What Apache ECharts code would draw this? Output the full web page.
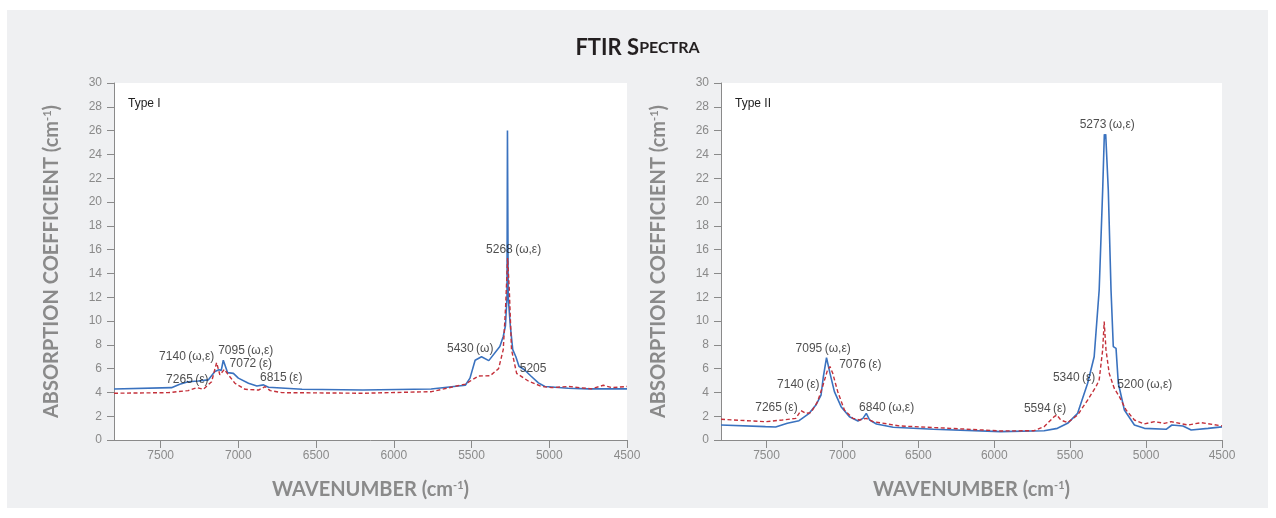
<!DOCTYPE html>
<html>
<head>
<meta charset="utf-8">
<script src="https://cdn.jsdelivr.net/npm/echarts@6/dist/echarts.min.js"></script>
<style>
html, body { margin: 0; padding: 0; background: #fff; }
#chart { position: absolute; left: 7px; top: 10px; width: 1261px; height: 498px; }
</style>
</head>
<body>
<div id="chart"></div>
<script>
// Type I spectra
var typeOneBlueX = [7800, 7430, 7377, 7323, 7258, 7194, 7151, 7125, 7110, 7097, 7069, 7032, 7000, 6935, 6881, 6838, 6806, 6590, 6200, 5760, 5540, 5510, 5477, 5436, 5389, 5318, 5296, 5282, 5272, 5269, 5267, 5264, 5250, 5235, 5215, 5195, 5160, 5120, 5070, 5028, 4878, 4749, 4556, 4500];
var typeOneBlueY = [4.29, 4.40, 4.68, 4.90, 4.96, 5.05, 5.75, 5.90, 5.85, 6.70, 5.66, 5.60, 5.20, 4.77, 4.54, 4.63, 4.43, 4.26, 4.20, 4.29, 4.60, 5.20, 6.70, 7.00, 6.67, 7.85, 8.70, 9.6, 12.0, 26.0, 26.0, 12.0, 9.5, 7.6, 7.0, 6.2, 5.9, 5.4, 4.8, 4.50, 4.35, 4.30, 4.30, 4.30];
var typeOneRedX = [7800, 7452, 7323, 7265, 7226, 7172, 7140, 7119, 7090, 7064, 7022, 6957, 6870, 6828, 6795, 6720, 6200, 5758, 5540, 5455, 5380, 5326, 5296, 5281, 5268, 5257, 5243, 5210, 5135, 5049, 4985, 4878, 4728, 4652, 4598, 4500];
var typeOneRedY = [3.93, 3.98, 4.15, 4.40, 4.26, 4.90, 6.50, 5.47, 5.94, 5.47, 4.77, 4.26, 4.20, 4.48, 4.15, 3.98, 3.93, 4.06, 4.70, 5.38, 5.40, 6.00, 7.60, 11.2, 15.3, 12.6, 7.60, 5.60, 4.96, 4.50, 4.40, 4.50, 4.30, 4.60, 4.40, 4.50];

// Type II spectra
var typeTwoBlueX = [7800, 7507, 7440, 7363, 7286, 7219, 7175, 7141, 7126, 7105, 7082, 7053, 7009, 6954, 6898, 6865, 6843, 6821, 6776, 6666, 6400, 5958, 5672, 5584, 5517, 5451, 5385, 5342, 5309, 5286, 5275, 5270, 5266, 5249, 5231, 5216, 5198, 5183, 5143, 5077, 5011, 4868, 4830, 4757, 4703, 4592, 4500];
var typeTwoBlueY = [1.26, 1.12, 1.09, 1.40, 1.62, 2.24, 2.94, 3.78, 5.30, 6.92, 5.60, 4.06, 2.80, 1.96, 1.60, 1.82, 2.24, 1.68, 1.35, 1.07, 0.90, 0.70, 0.78, 0.98, 1.40, 2.24, 4.77, 7.00, 12.6, 21.0, 25.7, 25.3, 25.7, 21.0, 12.6, 7.85, 7.70, 4.77, 2.52, 1.26, 0.98, 0.90, 1.26, 1.18, 0.84, 0.98, 1.10];
var typeTwoRedX = [7800, 7507, 7396, 7307, 7274, 7241, 7208, 7164, 7131, 7098, 7082, 7064, 7031, 6987, 6932, 6887, 6843, 6799, 6621, 6289, 5958, 5738, 5672, 5606, 5588, 5562, 5517, 5451, 5385, 5330, 5309, 5286, 5276, 5264, 5243, 5210, 5176, 5132, 5077, 5011, 4945, 4879, 4835, 4724, 4637, 4500];
var typeTwoRedY = [1.74, 1.54, 1.68, 1.82, 2.47, 2.24, 2.30, 3.22, 4.48, 5.90, 6.17, 5.60, 4.06, 2.52, 1.82, 1.68, 1.82, 1.54, 1.18, 0.98, 0.76, 0.78, 1.12, 1.96, 2.10, 1.68, 1.46, 2.10, 3.36, 4.48, 5.05, 7.57, 9.95, 7.57, 5.60, 4.35, 3.64, 2.52, 1.68, 1.35, 1.54, 1.40, 1.54, 1.26, 1.46, 1.18];

// peak notes: [wavenumber, coefficient, text] (text starts at the point)
var typeOneNotes = [
    [7513, 7.0, '7140\u2009(ω,ε)'],
    [7133, 7.5, '7095\u2009(ω,ε)'],
    [7060, 6.4, '7072\u2009(ε)'],
    [7468, 5.05, '7265\u2009(ε)'],
    [6864, 5.2, '6815\u2009(ε)'],
    [5661, 7.7, '5430\u2009(ω)'],
    [5410, 16.0, '5268\u2009(ω,ε)'],
    [5193, 6.0, '5205']
];
var typeTwoNotes = [
    [7312, 7.65, '7095\u2009(ω,ε)'],
    [7025, 6.37, '7076\u2009(ε)'],
    [7434, 4.63, '7140\u2009(ε)'],
    [7578, 2.75, '7265\u2009(ε)'],
    [6894, 2.75, '6840\u2009(ω,ε)'],
    [5441, 26.5, '5273\u2009(ω,ε)'],
    [5617, 5.2, '5340\u2009(ε)'],
    [5194, 4.63, '5200\u2009(ω,ε)'],
    [5808, 2.67, '5594\u2009(ε)']
];

var yTicks = [0, 30, 2];
var xTicks = [4500, 7800, 500];

var BLUE = '#3a72bf';
var RED = '#c4303a';
var GREY = '#8a8a8a';

function pairs(xs, ys) {
    return xs.map(function (x, i) { return [x, ys[i]]; });
}

function makeXAxis(index) {
    return {
        type: 'value',
        gridIndex: index,
        min: xTicks[0],
        max: xTicks[1],
        interval: xTicks[2],
        inverse: true,
        axisLine: { lineStyle: { color: GREY, width: 1 } },
        axisTick: { length: 8, lineStyle: { color: GREY } },
        axisLabel: {
            color: GREY, fontSize: 12, margin: 10, fontFamily: 'Liberation Sans', showMaxLabel: false,
            formatter: function (v) { return String(v); }
        },
        splitLine: { show: false },
        name: '{n|WAVENUMBER (cm}{s|-1}{n|)}',
        nameLocation: 'middle',
        nameGap: 40,
        nameTextStyle: {
            rich: {
                n: { fontSize: 20, fontWeight: 'bold', color: GREY, fontFamily: 'Lato' },
                s: { fontSize: 11, fontWeight: 'bold', color: GREY, fontFamily: 'Lato', padding: [0, 0, 9, 0] }
            }
        }
    };
}

function makeYAxis(index) {
    return {
        type: 'value',
        gridIndex: index,
        min: yTicks[0],
        max: yTicks[1],
        interval: yTicks[2],
        axisLine: { show: true, lineStyle: { color: GREY, width: 1 } },
        axisTick: { show: true, length: 7, lineStyle: { color: GREY } },
        axisLabel: { color: GREY, fontSize: 12, margin: 12, fontFamily: 'Liberation Sans' },
        splitLine: { show: false },
        name: '{n|ABSORPTION COEFFICIENT (cm}{s|-1}{n|)}',
        nameLocation: 'middle',
        nameGap: 52,
        nameTextStyle: {
            rich: {
                n: { fontSize: 20, fontWeight: 'bold', color: GREY, fontFamily: 'Lato' },
                s: { fontSize: 11, fontWeight: 'bold', color: GREY, fontFamily: 'Lato', padding: [0, 0, 9, 0] }
            }
        }
    };
}

function lineSeries(index, xs, ys, color, dashed) {
    return {
        type: 'line',
        xAxisIndex: index,
        yAxisIndex: index,
        data: pairs(xs, ys),
        symbol: 'none',
        silent: true,
        lineStyle: { color: color, width: dashed ? 1.4 : 1.6, type: dashed ? [4, 2.5] : 'solid' },
        z: dashed ? 3 : 2
    };
}

function noteSeries(index, notes) {
    return {
        type: 'scatter',
        xAxisIndex: index,
        yAxisIndex: index,
        data: notes,
        symbolSize: 1,
        silent: true,
        itemStyle: { color: 'transparent' },
        label: {
            show: true,
            position: 'right',
            distance: 0,
            color: '#222',
            fontSize: 12,
            fontFamily: 'Liberation Sans',
            formatter: function (p) { return p.data[2]; }
        },
        z: 6
    };
}

var chart = echarts.init(document.getElementById('chart'));
chart.setOption({
    animation: false,
    backgroundColor: '#eff0f2',
    title: [
        {
            text: '{a|FTIR S}{b|PECTRA}',
            left: 'center',
            top: 22,
            textStyle: {
                rich: {
                    a: { fontSize: 22, fontWeight: 'bold', color: '#231f20', fontFamily: 'Lato' },
                    b: { fontSize: 16, fontWeight: 'bold', color: '#231f20', fontFamily: 'Lato' }
                }
            }
        },
        { text: 'Type I', left: 116, top: 83, textStyle: { fontSize: 12, fontWeight: 'normal', color: '#222', fontFamily: 'Liberation Sans' } },
        { text: 'Type II', left: 723, top: 83, textStyle: { fontSize: 12, fontWeight: 'normal', color: '#222', fontFamily: 'Liberation Sans' } }
    ],
    grid: [
        { left: 107, top: 73, width: 513, height: 357, show: true, backgroundColor: '#fff', borderWidth: 0 },
        { left: 714, top: 73, width: 501, height: 357, show: true, backgroundColor: '#fff', borderWidth: 0 }
    ],
    xAxis: [makeXAxis(0), makeXAxis(1)],
    yAxis: [makeYAxis(0), makeYAxis(1)],
    series: [
        lineSeries(0, typeOneBlueX, typeOneBlueY, BLUE, false),
        lineSeries(0, typeOneRedX, typeOneRedY, RED, true),
        noteSeries(0, typeOneNotes),
        lineSeries(1, typeTwoBlueX, typeTwoBlueY, BLUE, false),
        lineSeries(1, typeTwoRedX, typeTwoRedY, RED, true),
        noteSeries(1, typeTwoNotes)
    ]
});
</script>
</body>
</html>
